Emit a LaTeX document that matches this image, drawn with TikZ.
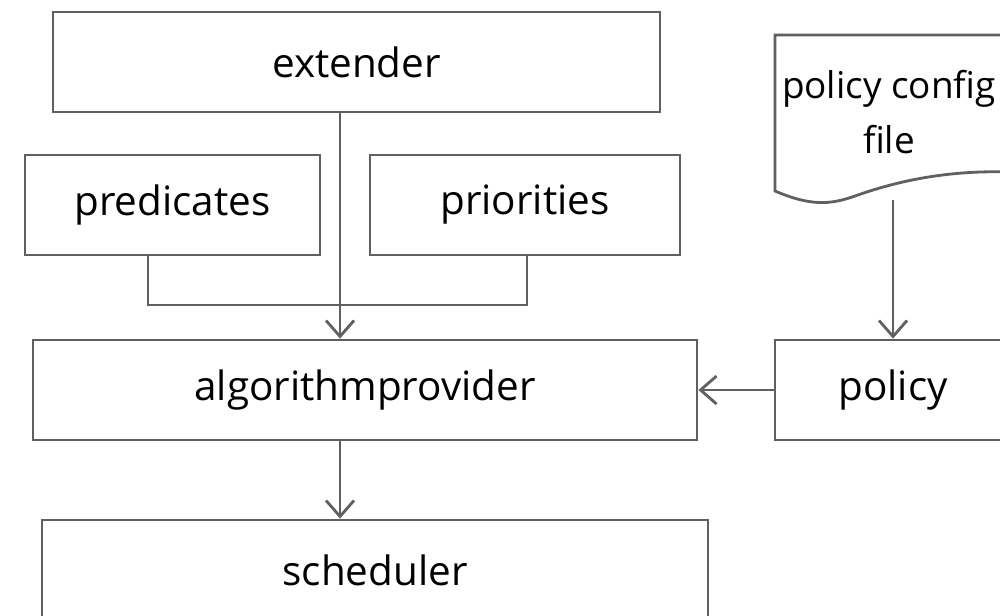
\documentclass[tikz,border=0pt]{standalone}
\usepackage{fontspec}
\setmainfont{Open Sans}
\usetikzlibrary{positioning, arrows.meta}

\definecolor{linegray}{RGB}{96,96,96}

\begin{document}
\begin{tikzpicture}
    [
        x=1cm, y=1cm,
        box/.style={rectangle, draw=linegray, line width=0.8pt, fill=white, inner sep=0pt, minimum height=10mm, font=\fontsize{11.5}{14}\selectfont},
        flow/.style={-{Straight Barb[length=1.6mm, width=2.8mm]}, draw=linegray, line width=0.8pt},
        bracket_line/.style={draw=linegray, line width=0.8pt},
    ]
        \clip (0,0) rectangle (10,-6.15) ;
        % boxes, left column
        \node[box, minimum width=60.7mm] (extender) at (3.565,-0.62) {extender} ;
        \node[box, minimum width=29.5mm] (predicates) at (1.725,-2.05) {predicates} ;
        \node[box, minimum width=31mm] (priorities) at (5.25,-2.05) {priorities} ;
        \node[box, minimum width=66.4mm] (provider) at (3.65,-3.9) {algorithmprovider} ;
        \node[box, minimum width=66.6mm] (scheduler) at (3.75,-5.7) {scheduler} ;
        % right column
        \node[box, minimum width=23.6mm] (policy) at (8.93,-3.9) {policy} ;
        \draw[draw=linegray, line width=0.8pt, fill=white]
            (7.75,-1.91) -- (7.75,-0.35) -- (10.11,-0.35) -- (10.11,-1.72)
            .. controls (9.5,-1.70) and (9.0,-1.80) .. (8.55,-1.96)
            .. controls (8.3,-2.05) and (8.1,-2.06) .. (7.75,-1.91) -- cycle ;
        \node[align=center, font=\fontsize{10.5}{15.6}\selectfont, inner sep=0pt] (config) at (8.89,-1.12) {policy config\\file} ;
        \coordinate (spine) at (3.4,0) ;
        \coordinate (filedrop) at (8.93,-2.0) ;
        % connectors
        \draw[flow] (extender.south -| spine) -- (provider.north -| spine) ;
        \draw[bracket_line] (predicates.south -| 1.48,0) -- (1.48,-3.05) -- (5.27,-3.05) -- (priorities.south -| 5.27,0) ;
        \draw[flow] (filedrop) -- (policy.north) ;
        \draw[flow] (policy.west) -- (provider.east) ;
        \draw[flow] (provider.south -| spine) -- (scheduler.north -| spine) ;
\end{tikzpicture}
\end{document}
